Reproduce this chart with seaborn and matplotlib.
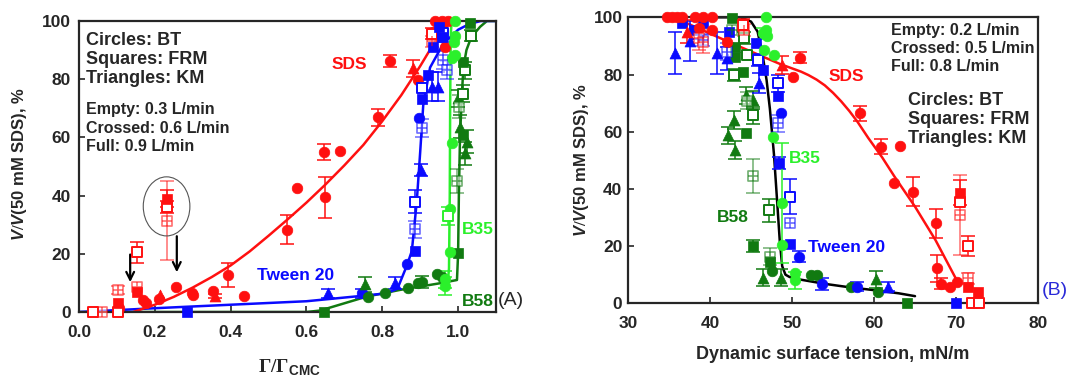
import matplotlib
matplotlib.use("Agg")
import matplotlib.pyplot as plt
import pandas as pd
import seaborn as sns
from matplotlib.patches import Ellipse

sns.set_style("ticks")
plt.rcParams["font.family"] = ["Liberation Sans", "DejaVu Sans"]
plt.rcParams["font.weight"] = "bold"
plt.rcParams["mathtext.fontset"] = "custom"
plt.rcParams["mathtext.rm"] = "Liberation Serif"
plt.rcParams["mathtext.it"] = "Liberation Sans:italic:bold"
plt.rcParams["mathtext.bf"] = "Liberation Sans:bold"

RED = "#ff1010"
BLUE = "#0a0aff"
LIME = "#2bf02b"
DKGREEN = "#117a11"

# ---- panel A data: (x, y, err, shape, fill) ----
a_sds = [
    (0.038, 0, 0, "s", "empty"), (0.060, 0, 0, "s", "crossed"), (0.104, 0, 0, "s", "empty"),
    (0.104, 7.6, 1.5, "s", "crossed"), (0.104, 3.0, 0, "s", "full"), (0.106, 1.5, 0, "o", "full"),
    (0.152, 20.5, 3.5, "s", "empty"), (0.152, 8.5, 0, "s", "crossed"), (0.152, 7.0, 0, "s", "full"),
    (0.168, 4.1, 0, "o", "full"), (0.177, 3.2, 0, "o", "full"), (0.214, 5.8, 0, "^", "full"),
    (0.212, 4.5, 0, "o", "full"), (0.231, 39.0, 3, "s", "full"), (0.232, 36.0, 2, "s", "empty"),
    (0.232, 31.4, 13.7, "s", "crossed"), (0.256, 8.5, 0, "o", "full"), (0.297, 6.4, 0, "o", "full"),
    (0.300, 6.0, 0, "o", "full"), (0.353, 7.3, 0, "o", "full"), (0.360, 5.5, 0.8, "^", "full"),
    (0.392, 12.7, 4.2, "o", "full"), (0.435, 5.5, 0, "o", "full"), (0.548, 28.2, 5, "o", "full"),
    (0.574, 42.5, 0, "o", "full"), (0.646, 55.1, 2.7, "o", "full"), (0.649, 39.4, 7, "o", "full"),
    (0.689, 55.4, 0, "o", "full"), (0.790, 66.9, 3, "o", "full"), (0.821, 86.3, 2, "o", "full"),
    (0.880, 83.7, 3, "^", "full"), (0.895, 79.7, 0, "o", "full"), (0.935, 96.3, 0, "o", "full"),
    (0.939, 100, 0, "o", "full"), (0.957, 100, 0, "o", "full"), (0.974, 100, 0, "o", "full"),
    (0.966, 91.2, 0, "o", "full"), (0.931, 95.7, 2, "s", "empty"), (0.931, 93.0, 2, "s", "crossed"),
    (0.957, 96.9, 0, "s", "full"),
]
a_tween = [
    (0.284, 0, 0, "s", "full"), (0.658, 6.4, 1.5, "^", "full"), (0.746, 6.4, 1.5, "o", "full"),
    (0.834, 9.9, 2, "^", "full"), (0.866, 16.5, 0, "o", "full"), (0.887, 21.1, 0, "s", "full"),
    (0.887, 28.4, 3, "s", "crossed"), (0.887, 37.9, 4, "s", "empty"), (0.902, 48.8, 2, "^", "full"),
    (0.906, 63.3, 3, "s", "crossed"), (0.897, 66.5, 0, "o", "full"), (0.904, 73.1, 0, "s", "full"),
    (0.904, 76.9, 0, "s", "empty"), (0.932, 77.4, 5, "^", "full"), (0.947, 77.4, 5, "^", "full"),
    (0.920, 81.4, 0, "s", "full"), (0.935, 91.2, 0, "s", "full"), (0.957, 94.6, 0, "s", "full"),
    (0.961, 95.8, 3, "s", "empty"), (0.961, 86.6, 3, "s", "crossed"), (0.970, 83.2, 3, "s", "crossed"),
    (0.950, 98.0, 0, "s", "full"),
]
a_b35 = [
    (0.992, 100, 0, "o", "full"), (0.992, 95.0, 0, "o", "full"), (0.988, 92.9, 0, "o", "full"),
    (0.992, 88.3, 0, "o", "full"), (0.983, 87.2, 0, "o", "full"), (0.983, 58.2, 0, "o", "full"),
    (0.973, 33.0, 3, "s", "empty"), (0.979, 35.3, 0, "o", "full"), (0.979, 20.7, 0, "o", "full"),
    (0.966, 11.2, 3, "o", "full"), (0.966, 8.9, 3, "o", "full"),
]
a_b58 = [
    (0.645, 0, 0, "s", "full"), (0.755, 9.5, 2.5, "^", "full"), (0.763, 5.0, 0, "o", "full"),
    (0.807, 6.4, 0, "o", "full"), (0.869, 8.1, 0, "o", "full"), (0.895, 10.1, 0, "o", "full"),
    (0.905, 10.4, 2, "o", "full"), (0.944, 13.1, 0, "o", "full"), (0.957, 12.0, 0, "o", "full"),
    (1.000, 20.4, 0, "s", "full"), (0.997, 45.0, 4, "s", "crossed"), (1.003, 70.5, 4, "s", "crossed"),
    (1.000, 73.4, 3, "^", "full"), (1.005, 63.7, 4, "^", "full"), (1.023, 58.5, 4, "^", "full"),
    (1.018, 54.5, 4, "^", "full"), (1.014, 60.8, 0, "s", "full"), (1.014, 86.0, 0, "s", "full"),
    (1.032, 99.2, 0, "s", "full"), (1.035, 95.0, 2, "s", "empty"), (1.018, 83.0, 3, "s", "empty"),
    (1.014, 75.0, 3, "s", "empty"),
]

a_sds_fit_x = [0.143, 0.20, 0.25, 0.30, 0.35, 0.40, 0.45, 0.50, 0.55, 0.60, 0.65, 0.70, 0.75, 0.80, 0.85, 0.90, 0.93, 0.95]
a_sds_fit_y = [0, 2.5, 5.2, 8.4, 12, 16, 20.8, 26.2, 31.8, 37.6, 43.8, 50.4, 57.4, 65.6, 74.5, 84.5, 91, 95]
a_tween_fit_x = [0, 0.2, 0.4, 0.6, 0.75, 0.81, 0.84, 0.865, 0.878, 0.891, 0.90, 0.908, 0.926, 0.96, 1.0, 1.03, 1.06, 1.1]
a_tween_fit_y = [0, 1.3, 2.5, 3.7, 5.6, 6.4, 8, 16, 21, 38, 55, 71, 84, 92, 97, 99, 100, 100]
a_b35_fit_x = [0.955, 0.972, 0.976, 0.978, 0.979, 0.980, 0.981, 0.983]
a_b35_fit_y = [8, 9, 15, 40, 70, 88, 96, 100]
a_b58_fit_x = [0, 0.6, 0.636, 0.759, 0.847, 0.953, 0.997, 1.0, 1.002, 1.005, 1.01, 1.014, 1.022, 1.032, 1.045, 1.058, 1.076, 1.1]
a_b58_fit_y = [0, 0, 0.5, 5.3, 7.6, 9.9, 11, 20, 40, 60, 75, 84, 90, 93.5, 96, 98, 100, 100]

# circled group and arrows in panel A
ring_center = (0.231, 36.3)
ring_size = (0.123, 20.3)
arrows_x = [0.135, 0.258]
arrows_from = [20.7, 27.0]
arrows_to = [9.3, 12.7]

# ---- panel B data ----
b_sds = [
    (34.75, 100, 0, "o", "full"), (35.4, 100, 0, "o", "full"), (36.0, 100, 0, "o", "full"),
    (36.6, 100, 0, "o", "full"), (38.2, 100, 0, "o", "full"), (39.2, 100, 0, "o", "full"),
    (40.3, 100, 0, "o", "full"), (38.6, 96.2, 0, "o", "full"), (40.3, 95.6, 0, "o", "full"),
    (42.1, 91.5, 0, "o", "full"), (37.2, 95.0, 4, "^", "full"), (38.6, 92.7, 4, "s", "crossed"),
    (39.2, 91.5, 4, "s", "crossed"), (44.0, 97.3, 2, "s", "empty"), (44.1, 95.6, 2, "s", "crossed"),
    (48.8, 83.3, 3, "^", "full"), (50.1, 79.2, 0, "o", "full"), (51.0, 85.9, 2, "o", "full"),
    (58.3, 66.4, 2.5, "o", "full"), (60.9, 54.8, 2.5, "o", "full"), (63.2, 55.1, 0, "o", "full"),
    (62.4, 42.2, 0, "o", "full"), (64.8, 39.0, 5, "o", "full"), (67.5, 28.0, 5, "o", "full"),
    (67.7, 12.2, 4.6, "o", "full"), (68.2, 6.9, 2, "o", "full"), (69.3, 5.8, 0, "o", "full"),
    (70.1, 7.6, 0, "o", "full"), (70.5, 38.7, 4.4, "s", "full"), (70.5, 35.5, 0, "s", "empty"),
    (70.5, 30.9, 14, "s", "crossed"), (71.5, 20.1, 3.5, "s", "empty"), (71.5, 8.7, 2, "s", "crossed"),
    (71.5, 5.8, 0, "s", "full"), (72.7, 4.1, 0, "s", "full"), (72.0, 0, 0, "s", "empty"),
    (72.8, 0, 0, "s", "empty"),
]
b_tween = [
    (35.7, 87.6, 7.4, "^", "full"), (37.5, 91.8, 7, "^", "full"), (40.8, 87.6, 7.4, "^", "full"),
    (36.6, 97.9, 0, "s", "full"), (39.2, 97.9, 0, "s", "full"), (38.0, 95.5, 0, "s", "full"),
    (38.3, 94.0, 0, "s", "empty"), (39.2, 92.1, 2, "s", "crossed"), (42.3, 95.0, 0, "s", "full"),
    (42.1, 88.0, 3, "s", "crossed"), (42.1, 85.7, 4, "^", "full"), (45.6, 90.9, 0, "s", "full"),
    (45.8, 85.0, 2, "s", "empty"), (46.0, 77.1, 3.5, "^", "full"), (46.4, 81.6, 0, "s", "full"),
    (48.3, 76.9, 3, "s", "empty"), (48.3, 72.6, 0, "s", "full"), (48.6, 66.6, 0, "o", "full"),
    (48.3, 62.9, 3, "s", "crossed"), (48.4, 49.0, 2, "s", "full"), (49.7, 37.3, 6, "s", "empty"),
    (49.7, 28.2, 0, "s", "crossed"), (49.7, 20.6, 0, "s", "full"), (50.9, 16.3, 2, "o", "full"),
    (53.6, 6.7, 2, "o", "full"), (57.9, 5.8, 1.5, "o", "full"), (61.7, 5.8, 1.5, "^", "full"),
    (70.0, 0, 0, "s", "full"),
]
b_b35 = [
    (46.8, 100, 0, "o", "full"), (46.8, 95.6, 0, "o", "full"), (46.4, 94.4, 2, "o", "full"),
    (47.0, 93.5, 0, "o", "full"), (46.6, 88.6, 0, "o", "full"), (47.8, 86.8, 0, "o", "full"),
    (47.7, 58.0, 0, "o", "full"), (48.8, 35.2, 21, "o", "full"), (48.8, 20.4, 0, "o", "full"),
    (50.4, 10.7, 0, "o", "full"), (50.4, 8.1, 3, "o", "full"),
]
b_b58 = [
    (42.7, 99.7, 0, "s", "full"), (42.7, 95.6, 0, "s", "crossed"), (44.1, 92.7, 2, "s", "empty"),
    (43.1, 89.7, 0, "s", "full"), (43.1, 86.2, 0, "s", "full"), (44.5, 86.8, 0, "s", "empty"),
    (44.0, 81.0, 0, "s", "full"), (42.9, 79.8, 2, "s", "empty"), (44.4, 72.8, 3, "^", "full"),
    (45.3, 71.1, 3, "^", "full"), (42.9, 64.1, 3, "^", "full"), (42.2, 58.8, 3, "^", "full"),
    (43.0, 53.6, 3, "^", "full"), (44.5, 70.8, 3, "s", "crossed"), (45.2, 65.8, 3, "s", "empty"),
    (44.4, 59.4, 0, "s", "full"), (45.2, 44.6, 6, "s", "crossed"), (47.2, 32.6, 4, "s", "empty"),
    (45.2, 20.0, 2, "s", "full"), (47.3, 16.3, 3, "s", "crossed"), (47.3, 14.5, 0, "s", "full"),
    (47.6, 11.3, 0, "o", "full"), (46.5, 9.0, 3, "^", "full"), (48.7, 9.0, 3, "^", "full"),
    (52.3, 9.9, 0, "o", "full"), (53.0, 9.9, 0, "o", "full"), (57.2, 5.8, 0, "o", "full"),
    (60.5, 4.1, 0, "o", "full"), (60.3, 8.4, 3, "^", "full"), (64.0, 0, 0, "s", "full"),
]

b_sds_fit_x = [37.2, 40, 43, 46, 48.6, 51.1, 52, 53, 54, 55, 56, 57, 58, 59.3, 61, 62.5, 65, 67.5, 70.1]
b_sds_fit_y = [97.9, 94.3, 90.5, 86.8, 83.6, 81, 79.8, 78.2, 76.2, 73.6, 70.6, 67.2, 63.4, 57.8, 51, 44.3, 33.8, 22.1, 8]
b_all_fit_x = [40.9, 43.7, 45.0, 45.8, 46.4, 46.9, 47.3, 47.8, 48.2, 48.5, 48.8, 49.2, 49.7, 51, 54, 57, 60, 63, 65]
b_all_fit_y = [100, 100, 98.5, 95, 87, 78, 68, 52, 35, 22, 13, 10, 9.2, 8.3, 6.8, 5.6, 4.6, 3.5, 2.5]

COLS = ["x", "y", "err", "shape", "fill"]
SIZES = {"o": 58, "s": 48, "^": 62}


def draw_points(ax, rows, color):
    df = pd.DataFrame(rows, columns=COLS)
    for fill, grp in df[df["err"] > 0].groupby("fill"):
        ax.errorbar(grp["x"], grp["y"], yerr=grp["err"], fmt="none", ecolor=color,
                    elinewidth=1.1, capsize=5, capthick=1.1, zorder=3,
                    alpha=0.6 if fill == "crossed" else 1, clip_on=False)
    for (shape, fill), grp in df.groupby(["shape", "fill"]):
        size = SIZES[shape]
        if fill == "full":
            sns.scatterplot(data=grp, x="x", y="y", ax=ax, marker=shape, s=size, color=color,
                            edgecolor=color, linewidth=0.5, zorder=4, legend=False, clip_on=False)
        elif fill == "empty":
            sns.scatterplot(data=grp, x="x", y="y", ax=ax, marker=shape, s=size, color=color,
                            facecolor="white", edgecolor=color, linewidth=1.4, zorder=4,
                            legend=False, clip_on=False)
        else:
            sns.scatterplot(data=grp, x="x", y="y", ax=ax, marker=shape, s=size, color=color,
                            facecolor="white", edgecolor=color, linewidth=1.2, zorder=4,
                            alpha=0.6, legend=False, clip_on=False)
            sns.scatterplot(data=grp, x="x", y="y", ax=ax, marker="+", s=size, color=color,
                            linewidth=1.2, zorder=5, alpha=0.6, legend=False, clip_on=False)


def draw_fit(ax, xs, ys, color):
    sns.lineplot(x=xs, y=ys, ax=ax, sort=False, estimator=None, color=color, lw=1.8, zorder=2)


def style_axes(ax, ypad):
    for sp in ax.spines.values():
        sp.set_linewidth(1.6)
        sp.set_visible(True)
    ax.tick_params(direction="in", length=4, width=1.2, labelsize=12.5)
    ax.tick_params(axis="x", pad=9)
    ax.tick_params(axis="y", pad=ypad)
    ax.set_ylim(0, 100)
    ax.set_yticks([0, 20, 40, 60, 80, 100])


fig = plt.figure(figsize=(10.69, 3.77), dpi=100)
axA = fig.add_axes([0.0739, 0.1724, 0.3901, 0.7719])
axB = fig.add_axes([0.5875, 0.1955, 0.3835, 0.7586])

# ---------------- panel A ----------------
draw_fit(axA, a_b58_fit_x, a_b58_fit_y, DKGREEN)
draw_fit(axA, a_b35_fit_x, a_b35_fit_y, LIME)
draw_fit(axA, a_tween_fit_x, a_tween_fit_y, BLUE)
draw_fit(axA, a_sds_fit_x, a_sds_fit_y, RED)
draw_points(axA, a_sds, RED)
draw_points(axA, a_tween, BLUE)
draw_points(axA, a_b58, DKGREEN)
draw_points(axA, a_b35, LIME)

axA.add_patch(Ellipse(ring_center, ring_size[0], ring_size[1], fill=False, ec="#555555", lw=0.8, zorder=6))
for xa, y0, y1 in zip(arrows_x, arrows_from, arrows_to):
    axA.annotate("", xy=(xa, y1), xytext=(xa, y0),
                 arrowprops=dict(arrowstyle="->", lw=1.6, color="black", mutation_scale=14))

axA.set_xlim(0, 1.1)
axA.set_xticks([0, 0.2, 0.4, 0.6, 0.8, 1.0])
axA.set_xticklabels(["0.0", "0.2", "0.4", "0.6", "0.8", "1.0"])
style_axes(axA, 6)
axA.set_xlabel(r"$\Gamma/\Gamma_{\mathbf{CMC}}$", fontsize=14)
axA.set_ylabel(r"$\mathit{V/V}$(50 mM SDS), %", fontsize=12, fontweight="bold")
axA.xaxis.set_label_coords(0.504, -0.155)
axA.yaxis.set_label_coords(-0.12, 0.51)

axA.text(0.017, 0.9175, "Circles: BT", transform=axA.transAxes, fontsize=13)
axA.text(0.017, 0.851, "Squares: FRM", transform=axA.transAxes, fontsize=13)
axA.text(0.017, 0.786, "Triangles: KM", transform=axA.transAxes, fontsize=13)
axA.text(0.017, 0.679, "Empty: 0.3 L/min", transform=axA.transAxes, fontsize=11.5)
axA.text(0.017, 0.616, "Crossed: 0.6 L/min", transform=axA.transAxes, fontsize=11.5)
axA.text(0.017, 0.553, "Full: 0.9 L/min", transform=axA.transAxes, fontsize=11.5)
axA.text(0.667, 83.5, "SDS", color=RED, fontsize=12.5)
axA.text(0.469, 11.0, "Tween 20", color=BLUE, fontsize=12.5)
axA.text(1.011, 26.7, "B35", color=LIME, fontsize=12.5)
axA.text(1.011, 2.1, "B58", color=DKGREEN, fontsize=12.5)
axA.text(1.005, 0.024, "(A)", transform=axA.transAxes, fontsize=14, fontweight="normal")

# ---------------- panel B ----------------
draw_fit(axB, b_sds_fit_x, b_sds_fit_y, RED)
draw_points(axB, b_b58, DKGREEN)
draw_points(axB, b_tween, BLUE)
draw_points(axB, b_b35, LIME)
draw_points(axB, b_sds, RED)
draw_fit(axB, b_all_fit_x, b_all_fit_y, "black")

axB.set_xlim(30, 80)
axB.set_xticks([30, 40, 50, 60, 70, 80])
style_axes(axB, 4)
axB.set_xlabel("Dynamic surface tension, mN/m", fontsize=13, fontweight="bold")
axB.set_ylabel(r"$\mathit{V/V}$(50 mM SDS), %", fontsize=12, fontweight="bold")
axB.xaxis.set_label_coords(0.5, -0.15)
axB.yaxis.set_label_coords(-0.09, 0.5)

axB.text(0.641, 0.938, "Empty: 0.2 L/min", transform=axB.transAxes, fontsize=11.5)
axB.text(0.641, 0.874, "Crossed: 0.5 L/min", transform=axB.transAxes, fontsize=11.5)
axB.text(0.641, 0.812, "Full: 0.8 L/min", transform=axB.transAxes, fontsize=11.5)
axB.text(0.682, 0.693, "Circles: BT", transform=axB.transAxes, fontsize=13)
axB.text(0.682, 0.627, "Squares: FRM", transform=axB.transAxes, fontsize=13)
axB.text(0.682, 0.559, "Triangles: KM", transform=axB.transAxes, fontsize=13)
axB.text(54.4, 77.7, "SDS", color=RED, fontsize=12.5)
axB.text(49.67, 49.0, "B35", color=LIME, fontsize=12.5)
axB.text(40.88, 28.5, "B58", color=DKGREEN, fontsize=12.5)
axB.text(51.93, 18.0, "Tween 20", color=BLUE, fontsize=12.5)
axB.text(1.009, 0.029, "(B)", transform=axB.transAxes, fontsize=14, fontweight="normal", color="#2a2ad8")

fig.savefig("out.png", dpi=100)
